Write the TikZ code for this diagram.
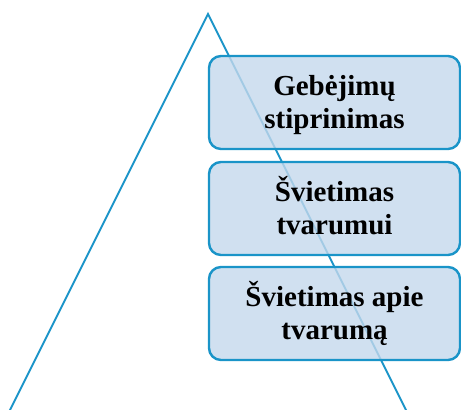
\documentclass[tikz,border=0pt]{standalone}
\usepackage{fontspec}
\setmainfont{Liberation Serif}
\definecolor{linec}{HTML}{1A94C8}
\definecolor{boxfill}{RGB}{196,216,236}
\newcommand{\lnA}{\vphantom{Šp}}
\begin{document}
\begin{tikzpicture}[x=1pt,y=-1pt,
  tier/.style={draw=linec, line width=2.4pt, fill=boxfill, fill opacity=0.8, text opacity=1,
    rounded corners=12pt, minimum width=251pt, minimum height=93pt, inner sep=0pt,
    align=center, font=\bfseries\fontsize{29}{29.5}\selectfont, text=black},
  edge/.style={draw=linec, line width=2pt}]
\useasboundingbox (0,0) rectangle (461,410);
\begin{scope}
\clip (0,0) rectangle (461,410);
\coordinate (apex) at (208,14);
\coordinate (bl) at (6,418);
\coordinate (br) at (410,418);
\draw[edge, line join=miter] (bl) -- (apex) -- (br);
\end{scope}
\node[tier] (b1) at (334.5,102.5) {\lnA Gebėjimų\\\lnA stiprinimas};
\node[tier] (b2) at (334.5,208.5) {\lnA Švietimas\\\lnA tvarumui};
\node[tier] (b3) at (334.5,313.5) {\lnA Švietimas apie\\\lnA tvarumą};
\end{tikzpicture}
\end{document}
